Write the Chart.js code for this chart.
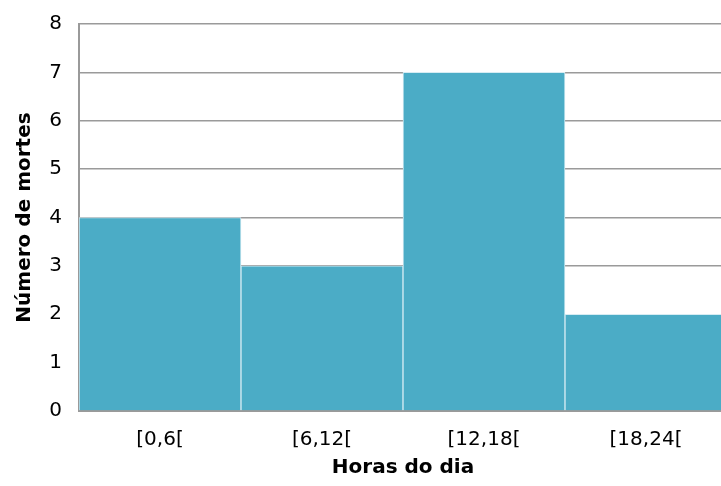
<!DOCTYPE html>
<html>
<head>
<meta charset="utf-8">
<script src="https://cdn.jsdelivr.net/npm/chart.js@4.4.0/dist/chart.umd.min.js"></script>
<style>
  html, body { margin: 0; padding: 0; background: #fff; overflow: hidden; }
  #wrap { width: 730px; height: 486px; }
</style>
</head>
<body>
<div id="wrap"><canvas id="chart" width="730" height="486"></canvas></div>
<script>
const categories = ['[0,6[', '[6,12[', '[12,18[', '[18,24['];
const mortes = [4, 3, 7, 2];
const yTicks = [0, 1, 2, 3, 4, 5, 6, 7, 8];

const font = "'DejaVu Sans', sans-serif";

// fixed plot box: left 79, top 24, bottom 411, right 727
function noPad(s) {
    s.paddingTop = 0; s.paddingBottom = 0; s.paddingLeft = 0; s.paddingRight = 0;
}

new Chart(document.getElementById('chart'), {
    type: 'bar',
    data: {
        labels: categories,
        datasets: [{
            data: mortes,
            backgroundColor: '#4BACC6',
            borderColor: '#d6ecf3',
            borderWidth: 1,
            barPercentage: 1,
            categoryPercentage: 1
        }]
    },
    options: {
        responsive: false,
        animation: false,
        layout: { padding: { left: 0, top: 24, right: 3, bottom: 0 } },
        plugins: { legend: { display: false }, tooltip: { enabled: false } },
        scales: {
            x: {
                afterFit: (s) => { s.height = 75; noPad(s); },
                grid: { display: false, drawTicks: false },
                border: { color: '#9a9a9a', width: 2 },
                ticks: { color: '#000', font: { family: font, size: 20 }, padding: 17 },
                title: {
                    display: true, text: 'Horas do dia', color: '#000',
                    font: { family: font, size: 20, weight: 'bold' }, padding: { top: 0, bottom: 6 }
                }
            },
            y: {
                min: 0, max: 8,
                afterBuildTicks: (axis) => { axis.ticks = yTicks.map(v => ({ value: v })); },
                afterFit: (s) => { s.width = 79; noPad(s); },
                grid: { color: '#9a9a9a', lineWidth: 1.5, drawTicks: false },
                border: { color: '#9a9a9a', width: 2 },
                ticks: { color: '#000', font: { family: font, size: 20 }, padding: 17 },
                title: {
                    display: true, text: 'Número de mortes', color: '#000',
                    font: { family: font, size: 20, weight: 'bold' }, padding: { top: 13, bottom: 0 }
                }
            }
        }
    }
});
</script>
</body>
</html>
